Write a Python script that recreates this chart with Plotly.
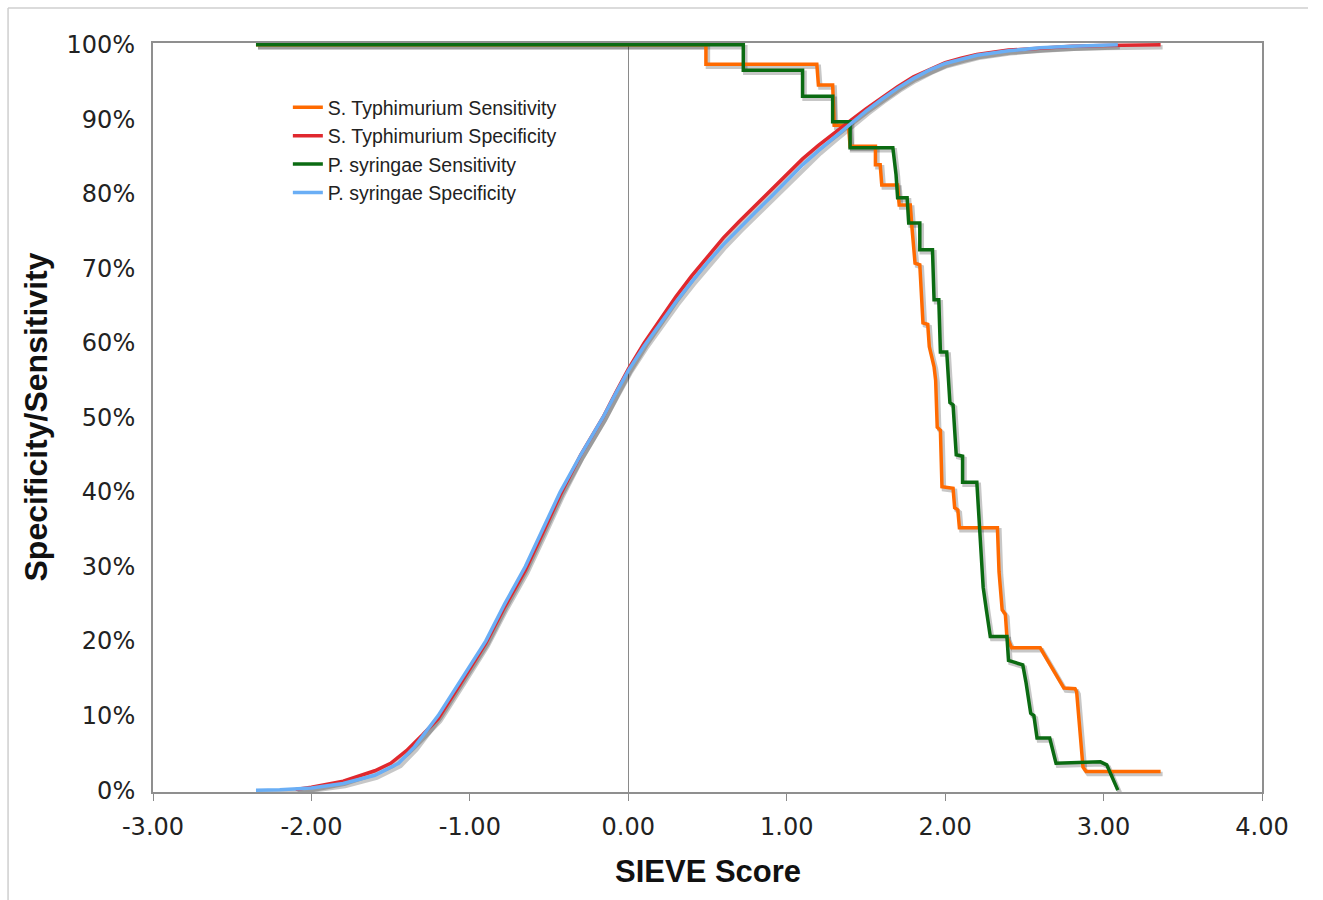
import plotly.graph_objects as go

# ---------------- data ----------------
sieve_tick_vals = [-3, -2, -1, 0, 1, 2, 3, 4]
sieve_tick_text = ["-3.00", "-2.00", "-1.00", "0.00", "1.00", "2.00", "3.00", "4.00"]
pct_tick_vals = [0, 10, 20, 30, 40, 50, 60, 70, 80, 90, 100]
pct_tick_text = ["0%", "10%", "20%", "30%", "40%", "50%", "60%", "70%", "80%", "90%", "100%"]

series_names = [
    "S. Typhimurium Sensitivity",
    "S. Typhimurium Specificity",
    "P. syringae Sensitivity",
    "P. syringae Specificity",
]

# S. Typhimurium sensitivity (step curve vertices)
st_sens_x = [-2.35, 0.49, 0.49, 1.19, 1.20, 1.29, 1.30, 1.39, 1.40, 1.56, 1.56, 1.59, 1.60,
             1.70, 1.71, 1.78, 1.79, 1.81, 1.84, 1.86, 1.89, 1.90, 1.93, 1.94, 1.95, 1.97,
             1.98, 2.05, 2.06, 2.08, 2.09, 2.33, 2.34, 2.36, 2.38, 2.39, 2.42, 2.60, 2.75,
             2.82, 2.83, 2.87, 2.89, 3.36]
st_sens_y = [100, 100, 97.4, 97.4, 94.6, 94.6, 89.2, 89.2, 86.4, 86.4, 83.9, 83.9, 81.2,
             81.2, 78.5, 78.5, 75.6, 70.7, 70.5, 62.7, 62.5, 59.5, 56.8, 55.0, 48.7, 48.3,
             40.7, 40.5, 37.9, 37.6, 35.2, 35.2, 29.3, 24.2, 23.6, 20.5, 19.1, 19.1, 13.7,
             13.6, 13.2, 3.1, 2.5, 2.5]

# S. Typhimurium specificity
st_spec_x = [-2.1, -2.0, -1.8, -1.6, -1.5, -1.45, -1.4, -1.3, -1.2, -1.05, -0.9, -0.78, -0.65,
             -0.54, -0.43, -0.3, -0.16, -0.08, 0.0, 0.1, 0.2, 0.3, 0.4, 0.5, 0.6, 0.7, 0.8,
             0.9, 1.0, 1.1, 1.2, 1.3, 1.4, 1.5, 1.6, 1.7, 1.8, 1.9, 2.0, 2.1, 2.2, 2.4, 2.6,
             2.8, 3.0, 3.36]
st_spec_y = [0.1, 0.4, 1.2, 2.6, 3.6, 4.5, 5.3, 7.4, 9.6, 14.6, 19.7, 24.6, 29.5, 34.5, 39.6,
             45.0, 50.0, 53.3, 56.5, 60.0, 63.2, 66.2, 69.0, 71.6, 74.1, 76.3, 78.4, 80.6,
             82.7, 84.7, 86.5, 88.2, 89.8, 91.4, 92.9, 94.4, 95.7, 96.7, 97.6, 98.2, 98.7,
             99.3, 99.6, 99.8, 99.9, 100]

# P. syringae sensitivity (step curve vertices)
ps_sens_x = [-2.35, 0.726, 0.726, 1.10, 1.10, 1.29, 1.29, 1.40, 1.40, 1.67, 1.69, 1.70, 1.76,
             1.77, 1.84, 1.84, 1.92, 1.93, 1.96, 1.97, 2.01, 2.03, 2.05, 2.07, 2.11, 2.11,
             2.20, 2.22, 2.24, 2.26, 2.285, 2.39, 2.40, 2.43, 2.49, 2.51, 2.54, 2.56, 2.58,
             2.66, 2.70, 2.98, 3.02, 3.09]
ps_sens_y = [100, 100, 96.6, 96.6, 93.1, 93.1, 89.7, 89.7, 86.2, 86.2, 82.6, 79.5, 79.5,
             76.1, 76.1, 72.5, 72.5, 65.8, 65.8, 58.8, 58.8, 52.0, 51.7, 45.0, 44.8, 41.3,
             41.3, 34.9, 27.2, 24.2, 20.6, 20.6, 17.4, 17.2, 16.8, 14.5, 10.3, 10.0, 7.0,
             7.0, 3.6, 3.8, 3.4, 0.0]

# P. syringae specificity
ps_spec_x = [-2.35, -2.2, -2.0, -1.8, -1.6, -1.45, -1.35, -1.2, -1.05, -0.9, -0.78, -0.65,
             -0.54, -0.43, -0.3, -0.16, -0.08, 0.0, 0.1, 0.2, 0.3, 0.4, 0.5, 0.6, 0.7, 0.8,
             0.9, 1.0, 1.1, 1.2, 1.3, 1.4, 1.5, 1.6, 1.7, 1.8, 1.9, 2.0, 2.1, 2.2, 2.4, 2.6,
             2.8, 3.09]
ps_spec_y = [0.0, 0.05, 0.3, 0.9, 2.0, 3.6, 5.8, 10.0, 15.0, 20.0, 25.0, 30.0, 35.0, 40.0,
             45.0, 50.0, 53.2, 56.3, 59.6, 62.6, 65.5, 68.2, 70.8, 73.2, 75.4, 77.5, 79.6,
             81.8, 83.9, 85.8, 87.6, 89.4, 91.1, 92.7, 94.2, 95.5, 96.6, 97.5, 98.1, 98.6,
             99.2, 99.6, 99.8, 100]

series_x = [st_sens_x, st_spec_x, ps_sens_x, ps_spec_x]
series_y = [st_sens_y, st_spec_y, ps_sens_y, ps_spec_y]
series_colors = ["#FF6A00", "#E0282E", "#0B6B12", "#6AAEF5"]

# ---------------- figure ----------------
fig = go.Figure()

# drop shadows on the (hidden) base axes, shifted a couple of pixels
for xs, ys in zip(series_x, series_y):
    fig.add_trace(go.Scatter(x=xs, y=ys, mode="lines", xaxis="x", yaxis="y",
                             line=dict(color="rgba(0,0,0,0.22)", width=4.5),
                             hoverinfo="skip", showlegend=False))

# main lines on the visible overlay axes
for name, xs, ys, col in zip(series_names, series_x, series_y, series_colors):
    fig.add_trace(go.Scatter(x=xs, y=ys, mode="lines", name=name, xaxis="x2", yaxis="y2",
                             line=dict(color=col, width=3.5)))

X_RANGE = [-3, 4]
Y_RANGE = [-0.25, 100.25]
dx = 2.0 / 158.43
dy = 2.5 / 7.453

tick_font = dict(family="DejaVu Sans, Verdana, sans-serif", size=24, color="#222")

fig.update_layout(
    width=1323, height=900,
    margin=dict(l=153, r=61, t=43, b=108),
    paper_bgcolor="white", plot_bgcolor="white",
    showlegend=True,
    legend=dict(x=0.1216, y=0.9397, xanchor="left", yanchor="top",
                bgcolor="rgba(0,0,0,0)", borderwidth=0,
                font=dict(family="Liberation Sans, Arial, sans-serif", size=19.5, color="#222")),
    xaxis=dict(range=[X_RANGE[0] - dx, X_RANGE[1] - dx], visible=False, fixedrange=True),
    yaxis=dict(range=[Y_RANGE[0] + dy, Y_RANGE[1] + dy], visible=False, fixedrange=True),
    xaxis2=dict(range=X_RANGE, overlaying="x", side="bottom", anchor="y2",
                tickvals=sieve_tick_vals, ticktext=sieve_tick_text,
                ticks="outside", ticklen=7, tickcolor="#8a8a8a", tickwidth=1,
                showline=True, linecolor="#8f8f8f", linewidth=2, mirror=True,
                showgrid=False, zeroline=True, zerolinecolor="#8a8a8a", zerolinewidth=1,
                tickfont=tick_font, ticklabelstandoff=5),
    yaxis2=dict(range=Y_RANGE, overlaying="y", side="left", anchor="x2",
                tickvals=pct_tick_vals, ticktext=pct_tick_text,
                ticks="", showline=True, linecolor="#8f8f8f", linewidth=2, mirror=True,
                showgrid=False, zeroline=False,
                tickfont=tick_font, ticklabelstandoff=11),
    annotations=[
        dict(text="<b>SIEVE Score</b>", xref="paper", yref="paper", x=0.5, y=-0.106,
             xanchor="center", yanchor="middle", showarrow=False,
             font=dict(family="Liberation Sans, Arial, sans-serif", size=31, color="#111")),
        dict(text="<b>Specificity/Sensitivity</b>", xref="paper", yref="paper",
             x=-0.1064, y=0.5, textangle=-90, xanchor="center", yanchor="middle",
             showarrow=False,
             font=dict(family="Liberation Sans, Arial, sans-serif", size=32, color="#111")),
    ],
    shapes=[
        dict(type="line", xref="paper", yref="paper", x0=-0.1307, x1=-0.1307,
             y0=-0.1442, y1=1.0467, line=dict(color="#cfcfcf", width=1.5)),
        dict(type="line", xref="paper", yref="paper", x0=-0.1307, x1=1.0415,
             y0=1.0467, y1=1.0467, line=dict(color="#cfcfcf", width=1.5)),
    ],
)

fig.write_html("out.html")
